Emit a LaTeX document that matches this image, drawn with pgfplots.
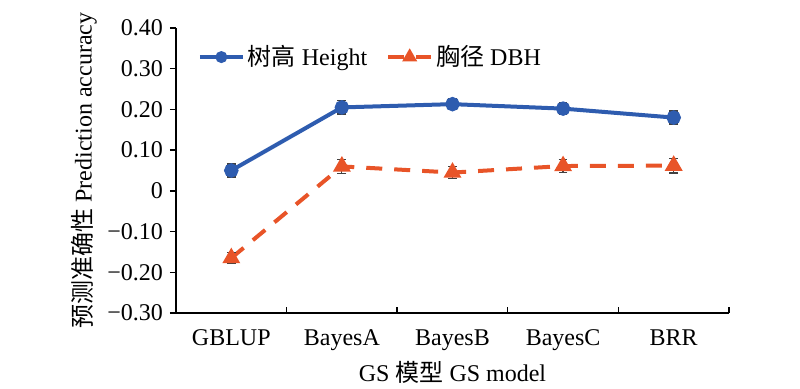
\documentclass[border=0pt]{standalone}
\usepackage{fontspec}
\setmainfont{Liberation Serif}
\newfontfamily\cjk{Noto Sans CJK SC}
\usepackage{pgfplots}
\usepackage{pgfplotstable}
\pgfplotsset{compat=1.18}
\definecolor{hblue}{RGB}{46,92,175}
\definecolor{dorange}{RGB}{232,84,40}
\pgfplotstableread{
x y e
0 0.050 0.016
1 0.205 0.016
2 0.213 0.013
3 0.202 0.014
4 0.180 0.016
}\heighttab
\pgfplotstableread{
x y e
0 -0.165 0.014
1 0.060 0.018
2 0.045 0.014
3 0.061 0.016
4 0.062 0.018
}\dbhtab
\begin{document}
\begin{tikzpicture}[font=\fontsize{12}{14}\selectfont]
\useasboundingbox (0,0) rectangle (400pt,194pt);
\begin{axis}[
  at={(88pt,37.5pt)}, anchor=south west,
  scale only axis, width=276.5pt, height=142.5pt,
  xmin=-0.5, xmax=4.5, ymin=-0.3, ymax=0.4,
  axis x line*=bottom, axis y line*=left,
  axis line style={line width=0.8pt},
  xtick={-0.5,0.5,...,4.5}, xticklabels={},
  extra x ticks={0,1,2,3,4},
  extra x tick labels={GBLUP,BayesA,BayesB,BayesC,BRR},
  extra x tick style={major tick length=0pt, xticklabel style={yshift=-5pt}},
  xtick align=inside, ytick align=outside,
  major tick length=3pt,
  tick style={line width=0.7pt, black},
  ytick={-0.3,-0.2,-0.1,0,0.1,0.2,0.3,0.4},
  yticklabels={−0.30,−0.20,−0.10,0,0.10,0.20,0.30,0.40},
  xlabel={GS {\cjk 模型} GS model},
  ylabel={{\cjk 预测准确性} Prediction accuracy},
  xlabel style={at={(axis description cs:0.5,-0.207)}, anchor=center},
  ylabel style={at={(axis description cs:-0.166,0.5)}, anchor=center},
  legend columns=2,
  legend style={at={(0.028,0.898)}, anchor=west, draw=none, fill=none,
    /tikz/every even column/.append style={column sep=8pt},
    nodes={inner sep=1.5pt}},
  legend image code/.code={\draw[mark repeat=2,mark phase=2,#1,every mark/.append style={scale=0.75}] plot coordinates {(0pt,0pt) (10.75pt,0pt) (21.5pt,0pt)};},
]
\addplot[color=hblue, line width=2pt, mark=*, mark size=2.6pt, mark options={solid}]
  table[x=x, y=y] {\heighttab};
\addlegendentry{{\cjk 树高} Height}
\addplot[color=dorange, line width=2pt, dash pattern=on 8pt off 6pt, mark=triangle*, mark size=3.2pt, mark options={solid}]
  table[x=x, y=y] {\dbhtab};
\addlegendentry{{\cjk 胸径} DBH}
\addplot[forget plot, draw=none, mark=none,
  error bars/.cd, y dir=both, y explicit,
  error bar style={draw=black!75, line width=0.6pt, solid},
  error mark options={rotate=90, draw=black!75, line width=0.6pt, mark size=2.2pt, solid}]
  table[x=x, y=y, y error=e] {\heighttab};
\addplot[forget plot, draw=none, mark=none,
  error bars/.cd, y dir=both, y explicit,
  error bar style={draw=black!75, line width=0.6pt, solid},
  error mark options={rotate=90, draw=black!75, line width=0.6pt, mark size=2.2pt, solid}]
  table[x=x, y=y, y error=e] {\dbhtab};
\end{axis}
\end{tikzpicture}
\end{document}
